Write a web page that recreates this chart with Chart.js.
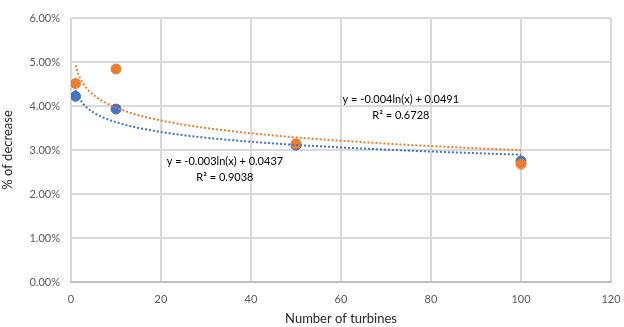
<!DOCTYPE html>
<html>
<head>
<meta charset="utf-8">
<script src="https://cdn.jsdelivr.net/npm/chart.js@4/dist/chart.umd.min.js"></script>
<style>
  html, body { margin: 0; padding: 0; background: #fff; }
  #wrap { width: 624px; height: 327px; }
</style>
</head>
<body>
<div id="wrap"><canvas id="turbine-chart"></canvas></div>
<script>
const turbines = [1, 10, 50, 100];
const seriesA = [0.0422, 0.0393, 0.0311, 0.0275];
const seriesB = [0.0451, 0.0484, 0.0314, 0.0268];
const xTicks = [0, 20, 40, 60, 80, 100, 120];
const yTicks = [0, 0.01, 0.02, 0.03, 0.04, 0.05, 0.06];

const blue = '#4472C4';
const orange = '#ED7D31';
const fontFamily = 'Lato, "Open Sans", sans-serif';

// least-squares fit of y = a*ln(x) + b, as a spreadsheet log trendline does
function logFit(xs, ys) {
    const ls = xs.map(x => Math.log(x));
    const n = xs.length;
    const lm = ls.reduce((s, v) => s + v, 0) / n;
    const ym = ys.reduce((s, v) => s + v, 0) / n;
    let sxy = 0, sxx = 0, syy = 0;
    for (let i = 0; i < n; i++) {
        sxy += (ls[i] - lm) * (ys[i] - ym);
        sxx += (ls[i] - lm) ** 2;
        syy += (ys[i] - ym) ** 2;
    }
    const a = sxy / sxx;
    const b = ym - a * lm;
    return { a, b, r2: (sxy * sxy) / (sxx * syy) };
}

function trendPoints(fit, from, to) {
    const pts = [];
    for (let x = from; x <= to; x += 0.5) {
        pts.push({ x, y: fit.a * Math.log(x) + fit.b });
    }
    return pts;
}

const fitA = logFit(turbines, seriesA);
const fitB = logFit(turbines, seriesB);

// equation labels, anchored in data units
const eqLabels = [
    { x: 34.2, y: 0.0275, lines: ['y = -0.003ln(x) + 0.0437', 'R² = 0.9038'] },
    { x: 73.3, y: 0.0416, lines: ['y = -0.004ln(x) + 0.0491', 'R² = 0.6728'] }
];

const eqPlugin = {
    id: 'eqLabels',
    afterDatasetsDraw(chart) {
        const { ctx, scales } = chart;
        ctx.save();
        ctx.font = '11px ' + fontFamily;
        ctx.fillStyle = '#000';
        ctx.textAlign = 'center';
        ctx.textBaseline = 'middle';
        eqLabels.forEach(l => {
            const px = scales.x.getPixelForValue(l.x);
            const py = scales.y.getPixelForValue(l.y);
            l.lines.forEach((t, i) => ctx.fillText(t, px, py + i * 16));
        });
        ctx.restore();
    }
};

const toXY = (xs, ys) => xs.map((x, i) => ({ x, y: ys[i] }));

new Chart(document.getElementById('turbine-chart').getContext('2d'), {
    type: 'scatter',
    data: {
        datasets: [
            {
                label: 'trend A', type: 'line', data: trendPoints(fitA, 1, 100),
                borderColor: blue, borderWidth: 2, borderDash: [2, 2],
                pointRadius: 0, fill: false, order: 0
            },
            {
                label: 'trend B', type: 'line', data: trendPoints(fitB, 1, 100),
                borderColor: orange, borderWidth: 2, borderDash: [2, 2],
                pointRadius: 0, fill: false, order: 0
            },
            {
                label: 'A', data: toXY(turbines, seriesA),
                backgroundColor: blue, borderColor: blue, pointRadius: 5, order: 2
            },
            {
                label: 'B', data: toXY(turbines, seriesB),
                backgroundColor: orange, borderColor: orange, pointRadius: 5, order: 1
            }
        ]
    },
    options: {
        responsive: true,
        maintainAspectRatio: false,
        animation: false,
        layout: { padding: { top: 18, right: 13, left: 0, bottom: 0 } },
        plugins: {
            legend: { display: false },
            tooltip: { enabled: false }
        },
        scales: {
            x: {
                type: 'linear', min: 0, max: 120,
                afterBuildTicks: axis => { axis.ticks = xTicks.map(v => ({ value: v })); },
                afterFit: axis => {
                    axis.height = 45;
                    axis.paddingLeft = 0;
                    axis.paddingRight = 0;
                },
                grid: { color: '#d9d9d9', lineWidth: 2, drawTicks: false },
                border: { color: '#bfbfbf', width: 2 },
                ticks: { color: '#595959', font: { family: fontFamily, size: 11 }, padding: 11 },
                title: {
                    display: true, text: 'Number of turbines', color: '#262626',
                    font: { family: fontFamily, size: 13 }, padding: { top: 3, bottom: 0 }
                }
            },
            y: {
                min: 0, max: 0.06,
                afterBuildTicks: axis => { axis.ticks = yTicks.map(v => ({ value: v })); },
                afterFit: axis => { axis.width = 71; },
                grid: { color: '#d9d9d9', lineWidth: 2, drawTicks: false },
                border: { display: false },
                ticks: {
                    color: '#595959', font: { family: fontFamily, size: 11 }, padding: 11,
                    callback: v => (v * 100).toFixed(2) + '%'
                },
                title: {
                    display: true, text: '% of decrease', color: '#262626',
                    font: { family: fontFamily, size: 13 }, padding: { top: 0, bottom: 2 }
                }
            }
        }
    },
    plugins: [eqPlugin]
});
</script>
</body>
</html>
